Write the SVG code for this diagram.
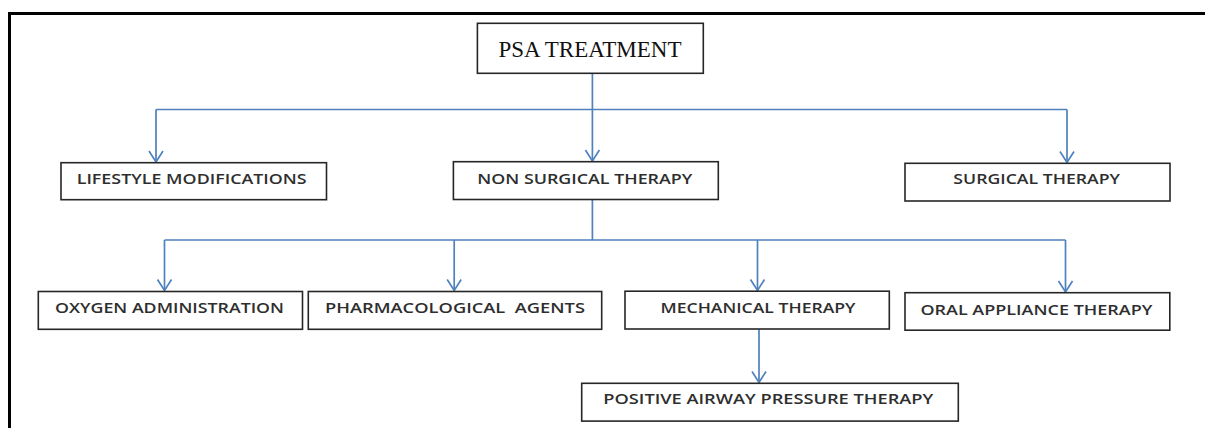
<svg xmlns="http://www.w3.org/2000/svg" width="1205" height="428" viewBox="0 0 1205 428">
<style>
.box{fill:#fff;stroke:#262626;stroke-width:1.6}
.lbl{font-family:"Open Sans","Liberation Sans",sans-serif;font-size:15px;font-weight:600;fill:#2e2e2e;text-anchor:middle}
.title{font-family:"Liberation Serif","Times New Roman",serif;font-size:23px;fill:#111;text-anchor:middle}
.con{fill:none;stroke:#4F81BD;stroke-width:1.7}
</style>
<defs>
<marker id="arr" viewBox="-13 -8 15 16" refX="0" refY="0" markerWidth="15" markerHeight="16" markerUnits="userSpaceOnUse" orient="auto" overflow="visible">
<path d="M-11,-7 L0,0 L-11,7" fill="none" stroke="#4F81BD" stroke-width="1.7"/>
</marker>
</defs>
<rect width="1205" height="428" fill="#fff"/>
<path d="M9.5,428 V13.5 H1205" fill="none" stroke="#000" stroke-width="3"/>
<g id="connectors">
<path class="con" d="M592.4,73.3 V161" marker-end="url(#arr)"/>
<path class="con" d="M156,109.5 H1067"/>
<path class="con" d="M156,109.5 V162" marker-end="url(#arr)"/>
<path class="con" d="M1067,109.5 V162.5" marker-end="url(#arr)"/>
<path class="con" d="M592.4,200 V240"/>
<path class="con" d="M164.5,240 H1065.5"/>
<path class="con" d="M164.5,240 V290.5" marker-end="url(#arr)"/>
<path class="con" d="M454.2,240 V290.5" marker-end="url(#arr)"/>
<path class="con" d="M757.5,240 V290.5" marker-end="url(#arr)"/>
<path class="con" d="M1065.5,240 V292" marker-end="url(#arr)"/>
<path class="con" d="M759,329.3 V382.5" marker-end="url(#arr)"/>
</g>
<g id="psa-treatment">
<rect class="box" x="477.4" y="23.3" width="225.9" height="50"/>
<text class="title" x="590" y="57">PSA TREATMENT</text>
</g>
<g id="lifestyle">
<rect class="box" x="61" y="162.7" width="265.5" height="37"/>
<text class="lbl" x="191.7" y="183.6" textLength="230" lengthAdjust="spacingAndGlyphs">LIFESTYLE MODIFICATIONS</text>
</g>
<g id="non-surgical">
<rect class="box" x="453.4" y="161.7" width="264.9" height="37.8"/>
<text class="lbl" x="584.8" y="184" textLength="215" lengthAdjust="spacingAndGlyphs">NON SURGICAL THERAPY</text>
</g>
<g id="surgical">
<rect class="box" x="905" y="163.3" width="265" height="37.7"/>
<text class="lbl" x="1036.7" y="184.3" textLength="166.7" lengthAdjust="spacingAndGlyphs">SURGICAL THERAPY</text>
</g>
<g id="oxygen">
<rect class="box" x="38.3" y="291.5" width="264.2" height="37.8"/>
<text class="lbl" x="169.5" y="312.8" textLength="229" lengthAdjust="spacingAndGlyphs">OXYGEN ADMINISTRATION</text>
</g>
<g id="pharmacological">
<rect class="box" x="308.3" y="291.5" width="293.4" height="37.8"/>
<text class="lbl" x="455" y="312.8" textLength="260" lengthAdjust="spacingAndGlyphs" xml:space="preserve">PHARMACOLOGICAL  AGENTS</text>
</g>
<g id="mechanical">
<rect class="box" x="625" y="291.2" width="264.3" height="37.8"/>
<text class="lbl" x="758" y="312.5" textLength="195" lengthAdjust="spacingAndGlyphs">MECHANICAL THERAPY</text>
</g>
<g id="oral-appliance">
<rect class="box" x="905" y="292.7" width="264.8" height="37.5"/>
<text class="lbl" x="1036.4" y="314.8" textLength="232" lengthAdjust="spacingAndGlyphs">ORAL APPLIANCE THERAPY</text>
</g>
<g id="positive-airway">
<rect class="box" x="581.7" y="383.3" width="376.6" height="37.8"/>
<text class="lbl" x="768.3" y="403.5" textLength="330" lengthAdjust="spacingAndGlyphs">POSITIVE AIRWAY PRESSURE THERAPY</text>
</g>
</svg>
